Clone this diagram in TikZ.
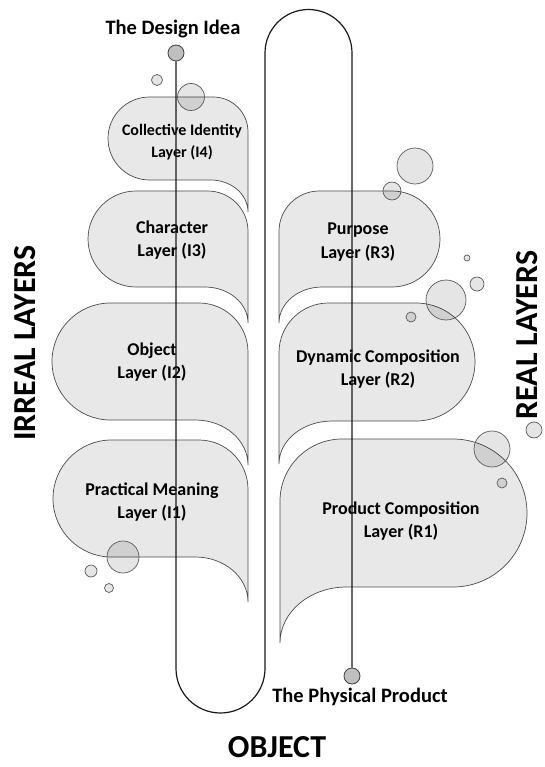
\documentclass[tikz,border=0pt]{standalone}
\usepackage{fontspec}
\setmainfont{Carlito}

% layer bubble with its tail on the right: left, top, right, bottom, tail tip
\newcommand{\leftlayer}[5]{%
  \pgfmathsetmacro{\hh}{#4-#2}
  \pgfmathsetmacro{\rr}{\hh/2}
  \pgfmathsetmacro{\cc}{0.42*\hh}
  \pgfmathsetmacro{\tx}{0.45*\hh}
  \pgfmathsetmacro{\ty}{#5-#4}
  \draw[layer] (#3,-#5) -- (#3,{-(#2+\cc)}) arc[start angle=0,end angle=90,radius=\cc]
    -- ({#1+\rr},-#2) arc[start angle=90,end angle=270,radius=\rr]
    -- ({#3-\tx},-#4) arc[start angle=90,end angle=0,x radius=\tx,y radius=\ty] -- cycle;
}
% layer bubble with its tail on the left
\newcommand{\rightlayer}[5]{%
  \pgfmathsetmacro{\hh}{#4-#2}
  \pgfmathsetmacro{\rr}{\hh/2}
  \pgfmathsetmacro{\cc}{0.42*\hh}
  \pgfmathsetmacro{\tx}{0.45*\hh}
  \pgfmathsetmacro{\ty}{#5-#4}
  \draw[layer] (#1,-#5) -- (#1,{-(#2+\cc)}) arc[start angle=180,end angle=90,radius=\cc]
    -- ({#3-\rr},-#2) arc[start angle=90,end angle=-90,radius=\rr]
    -- ({#1+\tx},-#4) arc[start angle=90,end angle=180,x radius=\tx,y radius=\ty] -- cycle;
}

\tikzset{
  layer/.style={draw=black!70, fill=gray!18, line width=0.7pt},
  bubble/.style={draw=black!65, fill=black, fill opacity=0.1, line width=0.7pt},
  track/.style={draw=black!90, line width=1.2pt},
  endpoint/.style={circle, draw=black!75, fill=gray!50, line width=0.8pt, minimum size=16pt, inner sep=0pt},
  layertext/.style={align=center, font=\fontsize{18}{23.5}\selectfont\bfseries},
  title/.style={font=\fontsize{20.5}{24}\selectfont\bfseries},
  side/.style={inner sep=0pt, font=\fontsize{32}{36}\selectfont\bfseries},
}

\begin{document}
\begin{tikzpicture}[x=1pt,y=1pt]
  \useasboundingbox (0,0) rectangle (545,-767);

  % irreal layers
  \leftlayer{108}{97}{248}{180}{212}
  \leftlayer{88}{191}{248}{287}{323}
  \leftlayer{52}{303}{248}{420}{465}
  \leftlayer{53}{440}{248}{557}{602}
  % real layers
  \rightlayer{279}{191}{440}{287}{323}
  \rightlayer{279}{303}{475}{421}{464}
  \rightlayer{280}{439}{527}{587}{643}

  % bubbles
  \draw[bubble] (157,-80) circle[radius=5.5];
  \draw[bubble] (191,-97) circle[radius=13.5];
  \draw[bubble] (415,-166) circle[radius=18];
  \draw[bubble] (392,-191) circle[radius=9];
  \draw[bubble] (467,-258) circle[radius=3];
  \draw[bubble] (477,-284) circle[radius=7];
  \draw[bubble] (446,-300) circle[radius=20];
  \draw[bubble] (411,-317) circle[radius=5];
  \draw[bubble] (492,-449) circle[radius=18];
  \draw[bubble] (502,-483) circle[radius=5];
  \draw[bubble] (534,-430) circle[radius=8];
  \draw[bubble] (123,-557) circle[radius=16];
  \draw[bubble] (91,-571) circle[radius=6];
  \draw[bubble] (109,-588) circle[radius=4.5];

  \node[endpoint] (idea) at (176,-53) {};
  \node[endpoint] (product) at (352,-676) {};
  \node[title] (idealabel) at (173,-29) {The Design Idea};
  \node[title] (productlabel) at (360,-697) {The Physical Product};

  \node[layertext, font=\fontsize{16}{21.5}\selectfont\bfseries] (i4) at (182,-142) {Collective Identity\\Layer (I4)};
  \node[layertext] (i3) at (172,-240) {Character\\Layer (I3)};
  \node[layertext] (i2) at (152,-362) {Object\\Layer (I2)};
  \node[layertext] (i1) at (152,-502) {Practical Meaning\\Layer (I1)};
  \node[layertext] (r3) at (358,-242) {Purpose\\Layer (R3)};
  \node[layertext] (r2) at (378,-369) {Dynamic Composition\\Layer (R2)};
  \node[layertext] (r1) at (401,-521) {Product Composition\\Layer (R1)};

  \node[side, rotate=90] (irreal) at (25,-343) {IRREAL LAYERS};
  \node[side, rotate=90] (real) at (527,-335) {REAL LAYERS};
  \node[side] (object) at (277,-747) {OBJECT};

  % the path from idea to product
  \draw[track] (idea) -- (176,-668.5) arc[start angle=180,end angle=360,radius=44.5]
    -- (265,-53) arc[start angle=180,end angle=0,radius=43.5] -- (product);
\end{tikzpicture}
\end{document}
